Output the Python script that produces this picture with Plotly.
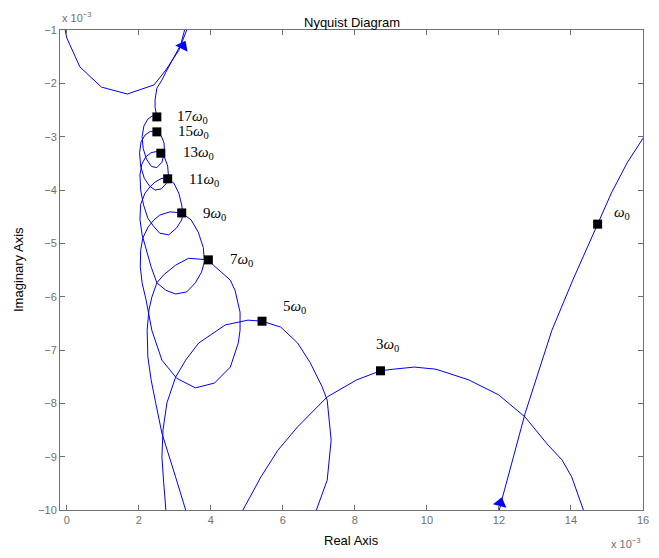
import plotly.graph_objects as go

# All values in units of 1e-3
# Visible pieces of the Nyquist curve
p1_re = [11.95, 12.01, 12.10, 12.73, 13.47, 14.05, 14.74, 15.12, 15.56, 16.0, 16.3]
p1_im = [-10.3, -10.0, -9.76, -8.18, -6.63, -5.69, -4.64, -4.06, -3.49, -3.03, -2.6]

p2_re = [4.75, 4.89, 5.39, 5.86, 6.41, 7.23, 8.05, 8.71, 9.07, 9.65, 10.25, 11.16,
         11.99, 12.73, 13.36, 13.75, 14.02, 14.35, 14.45]
p2_im = [-10.3, -10.0, -9.38, -8.88, -8.44, -7.88, -7.56, -7.39, -7.36, -7.32, -7.36, -7.56,
         -7.84, -8.26, -8.78, -9.06, -9.38, -10.0, -10.2]

p3_re = [2.76, 2.75, 2.69, 2.64, 2.67, 2.78, 3.02, 3.30, 3.66, 4.40, 5.03, 5.42, 5.94,
         6.41, 6.76, 7.09, 7.23, 7.34, 7.23, 6.93, 6.85]
p3_im = [-10.2, -10.0, -9.49, -9.01, -8.50, -7.99, -7.51, -7.19, -6.87, -6.53, -6.44, -6.46, -6.57,
         -6.87, -7.24, -7.69, -7.94, -8.69, -9.44, -10.0, -10.15]

p4_re = [3.35, 3.30, 3.02, 2.64, 2.47, 2.34, 2.25, 2.23, 2.28, 2.36, 2.50, 2.69, 3.02, 3.38,
         3.93, 4.07, 4.29, 4.54, 4.67, 4.81, 4.81, 4.76, 4.54, 4.10, 3.57, 3.05, 2.64, 2.36,
         2.20, 2.09, 2.04, 2.05, 2.11, 2.26, 2.42, 2.58, 2.86,
         3.19, 3.45, 3.65, 3.79, 3.82, 3.74, 3.57, 3.33, 3.02, 2.75, 2.50, 2.34, 2.20, 2.09,
         2.03, 2.05, 2.17, 2.31, 2.45, 2.64,
         2.80, 2.97, 3.11, 3.19, 3.22, 3.19, 3.05, 2.83, 2.58, 2.42, 2.25, 2.13, 2.05, 2.03,
         2.08, 2.19, 2.34, 2.48,
         2.61, 2.72, 2.80, 2.82, 2.76, 2.62, 2.45, 2.30, 2.15, 2.05, 2.02, 2.06, 2.17, 2.32,
         2.50, 2.62, 2.70, 2.71, 2.64, 2.50, 2.35, 2.21, 2.12, 2.09, 2.14, 2.25, 2.38,
         2.50, 2.45, 2.45, 2.50, 2.64, 2.75, 2.97, 3.16, 3.27, 3.31]
p4_im = [-10.2, -10.0, -9.38, -8.56, -8.0, -7.56, -7.13, -6.63, -6.25, -6.01, -5.74, -5.59, -5.41, -5.28,
         -5.31, -5.41, -5.54, -5.69, -5.88, -6.29, -6.63, -6.87, -7.32, -7.62, -7.71, -7.53, -7.19, -6.63,
         -6.06, -5.74, -5.44, -5.13, -4.90, -4.69, -4.56, -4.47, -4.41,
         -4.43, -4.56, -4.79, -5.08, -5.35, -5.54, -5.74, -5.91, -5.95, -5.88, -5.74, -5.44, -5.13, -4.84,
         -4.55, -4.27, -4.06, -3.94, -3.85, -3.78,
         -3.79, -3.87, -4.06, -4.28, -4.45, -4.56, -4.71, -4.84, -4.81, -4.69, -4.53, -4.28, -4.0, -3.72,
         -3.52, -3.38, -3.30, -3.28,
         -3.31, -3.40, -3.55, -3.72, -3.88, -3.98, -4.0, -3.93, -3.78, -3.55, -3.30, -3.10, -2.97, -2.90,
         -2.91, -2.98, -3.12, -3.30, -3.48, -3.58, -3.56, -3.42, -3.22, -3.00, -2.80, -2.67, -2.61,
         -2.63, -2.45, -2.31, -2.09, -1.94, -1.79, -1.53, -1.28, -1.0, -0.9]

p5_re = [-0.08, -0.05, 0.0, 0.36, 0.96, 1.68, 2.42, 2.75, 3.11, 3.33, 3.38]
p5_im = [-0.9, -1.0, -1.15, -1.69, -2.07, -2.20, -2.03, -1.75, -1.38, -1.0, -0.9]

# Harmonic markers
harm_re = [14.74, 8.71, 5.42, 3.93, 3.19, 2.80, 2.61, 2.50, 2.50]
harm_im = [-4.64, -7.39, -6.46, -5.31, -4.43, -3.79, -3.31, -2.91, -2.63]
harm_lbl = ["<i>ω</i><sub>0</sub>", "3<i>ω</i><sub>0</sub>", "5<i>ω</i><sub>0</sub>",
            "7<i>ω</i><sub>0</sub>", "9<i>ω</i><sub>0</sub>", "11<i>ω</i><sub>0</sub>",
            "13<i>ω</i><sub>0</sub>", "15<i>ω</i><sub>0</sub>", "17<i>ω</i><sub>0</sub>"]
# label pixel offsets (style)
lbl_dx = [14, -6, 19, 20, 19, 19, 20, 19, 18]
lbl_dy = [11, 26, 14, 0, -1, -1, 0, 0, 0]

# Direction arrows
arrow_re = [12.04, 3.22]
arrow_im = [-9.87, -1.30]
arrow_ang = [14, 27]

x_ticks = [0, 2, 4, 6, 8, 10, 12, 14, 16]
y_ticks = [-10, -9, -8, -7, -6, -5, -4, -3, -2, -1]

BLUE = "#0000ff"
GRAY = "#707070"
fig = go.Figure()
for xr, yi in [(p1_re, p1_im), (p2_re, p2_im), (p3_re, p3_im), (p4_re, p4_im), (p5_re, p5_im)]:
    fig.add_trace(go.Scatter(x=xr, y=yi, mode="lines", line=dict(color=BLUE, width=1),
                             hoverinfo="skip", showlegend=False))

fig.add_trace(go.Scatter(x=arrow_re, y=arrow_im, mode="markers",
                         marker=dict(symbol="triangle-up", size=12, color=BLUE, angle=arrow_ang,
                                     line=dict(width=0)),
                         cliponaxis=False, showlegend=False, hoverinfo="skip"))
fig.add_trace(go.Scatter(x=harm_re, y=harm_im, mode="markers",
                         marker=dict(symbol="square", size=9, color="black", line=dict(width=0)),
                         showlegend=False))

for xr, yi, t, dx, dy in zip(harm_re, harm_im, harm_lbl, lbl_dx, lbl_dy):
    fig.add_annotation(x=xr, y=yi, text=t, showarrow=False, xanchor="left", yanchor="middle",
                       xshift=dx, yshift=dy,
                       font=dict(family="Liberation Serif", size=15, color="black"))

ann_font = dict(family="Liberation Sans, Arial", size=13, color="black")
fig.add_annotation(xref="paper", yref="paper", x=0.5, y=1, yanchor="middle", yshift=8,
                   text="Nyquist Diagram", showarrow=False, font=ann_font)
fig.add_annotation(xref="paper", yref="paper", x=0.5, y=0, yanchor="middle", yshift=-30,
                   text="Real Axis", showarrow=False, font=ann_font)
fig.add_annotation(xref="paper", yref="paper", x=0, y=0.5, xanchor="center", xshift=-42,
                   text="Imaginary Axis", textangle=-90, showarrow=False, font=ann_font)
exp_font = dict(family="Liberation Sans, Arial", size=11, color=GRAY)
fig.add_annotation(xref="paper", yref="paper", x=0, y=1, xanchor="left", yanchor="middle",
                   yshift=13, text="x 10<sup>−3</sup>", showarrow=False, font=exp_font)
fig.add_annotation(xref="paper", yref="paper", x=1, y=0, xanchor="right", yanchor="middle",
                   yshift=-33, text="x 10<sup>−3</sup>", showarrow=False, font=exp_font)

axis_common = dict(showgrid=False, zeroline=False, showline=True, linecolor=GRAY, linewidth=1,
                   mirror="ticks", ticks="inside", ticklen=5, tickcolor=GRAY, tickwidth=1,
                   tickfont=dict(family="Liberation Sans, Arial", size=11, color=GRAY))
fig.update_xaxes(range=[-0.19, 16.0], tickvals=x_ticks, **axis_common)
fig.update_yaxes(range=[-10, -1], tickvals=y_ticks, **axis_common)

fig.update_layout(width=659, height=558, margin=dict(l=60, r=10, t=30, b=48),
                  plot_bgcolor="white", paper_bgcolor="white")
fig.write_html("out.html")
